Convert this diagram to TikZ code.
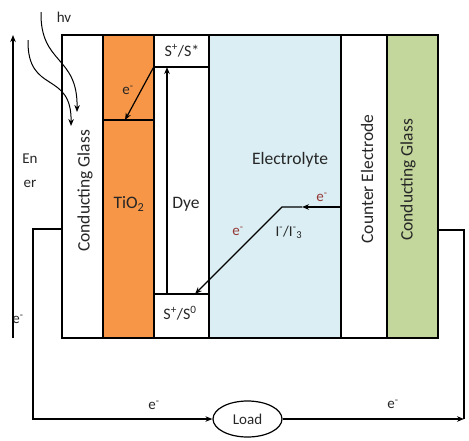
\documentclass[tikz,border=0pt]{standalone}
\usepackage{fontspec}
\setmainfont{Carlito}
\usetikzlibrary{arrows.meta,shapes.geometric}
\definecolor{tiox}{HTML}{F79646}
\definecolor{elyte}{HTML}{DAEEF3}
\definecolor{glassg}{HTML}{C3D69B}
\definecolor{ered}{HTML}{953735}
\definecolor{txt}{HTML}{262626}
\begin{document}
\begin{tikzpicture}[x=1pt,y=-1pt,line width=1.2pt,
  layer/.style={draw, minimum height=303pt, inner sep=0pt, anchor=center},
  big/.style={font=\fontsize{17.5}{20}\selectfont, text=txt, inner sep=0pt},
  mid/.style={font=\fontsize{16}{18}\selectfont, text=txt, inner sep=0pt},
  small/.style={font=\fontsize{15}{17}\selectfont, text=txt, inner sep=0pt},
  tip/.style={-{Stealth[length=7pt,width=5.5pt]}}]
\useasboundingbox (0,0) rectangle (469,440);
% layers
\node[layer, minimum width=41pt] (glassL) at (82.5,186.5) {};
\node[layer, minimum width=51pt, fill=tiox] (tio) at (128.5,186.5) {};
\node[layer, minimum width=55pt] (dye) at (181.5,186.5) {};
\node[layer, minimum width=132pt, fill=elyte] (ely) at (275,186.5) {};
\node[layer, minimum width=46pt] (cnt) at (364,186.5) {};
\node[layer, minimum width=51pt, fill=glassg] (glassR) at (412.5,186.5) {};
% dye sub-boxes
\node[draw, minimum width=55pt, minimum height=32pt, inner sep=0pt] (sstar) at (181.5,51) {};
\node[draw, minimum width=55pt, minimum height=44pt, inner sep=0pt] (szero) at (181.5,316) {};
% labels
\node[big, rotate=90] (lglassL) at (85,191) {Conducting Glass};
\node[big] (ltio) at (129,204) {TiO\textsubscript{2}};
\node[big] (ldye) at (186,204) {Dye};
\node[big] (lely) at (290,160) {Electrolyte};
\node[big, rotate=90] (lcnt) at (367,179) {Counter Electrode};
\node[big, rotate=90] (lglassR) at (408,180) {Conducting Glass};
\node[mid] (lsstar) at (182,51) {S\textsuperscript{+}/S*};
\node[mid] (lszero) at (180,313) {S\textsuperscript{+}/S\textsuperscript{0}};
\node[small] (liod) at (289,232) {I\textsuperscript{-}/I\textsuperscript{-}\textsubscript{3}};
\node[small, text=ered] (le1) at (322,197) {e\textsuperscript{-}};
\node[small, text=ered] (le2) at (238,231) {e\textsuperscript{-}};
\node[small] (le3) at (128,90) {e\textsuperscript{-}};
\node[small] (lhv) at (64,17) {hv};
\node[small] (len) at (30,159) {En};
\node[small] (ler) at (30,184) {er};
\node[small] (le4) at (18,319) {e\textsuperscript{-}};
\node[small] (le5) at (154,405) {e\textsuperscript{-}};
\node[small] (le6) at (393,404) {e\textsuperscript{-}};
% TiO2 level line and electron injection
\coordinate (tl) at (103,120);
\coordinate (tr) at (154,120);
\coordinate (tinj) at (125,120);
\draw (tl) -- (tr);
\draw[tip] (sstar.south west) -- (tinj);
% dye excitation
\coordinate (dyb) at (167,294);
\coordinate (dyt) at (167,67);
\draw[tip] (dyb) -- (dyt);
% electrolyte path
\coordinate (ea) at (341,207);
\coordinate (em) at (302,207);
\coordinate (ek) at (282,207);
\coordinate (eb) at (195,294);
\draw[tip] (ea) -- (em);
\draw[tip] (em) -- (ek) -- (eb);
% energy axis
\coordinate (en0) at (13,338);
\coordinate (en1) at (13,35);
\draw[tip] (en0) -- (en1);
% light
\coordinate (h1a) at (41,12);
\coordinate (h1b) at (77,112);
\coordinate (h2a) at (28,40);
\coordinate (h2b) at (71,126);
\draw[tip, line width=1pt] (h1a) .. controls (40,65) and (78,55) .. (h1b);
\draw[tip, line width=1pt] (h2a) .. controls (27,95) and (72,70) .. (h2b);
% circuit
\node[draw, ellipse, minimum width=69pt, minimum height=36pt, inner sep=0pt, small] (load) at (247.5,419) {Load};
\coordinate (wl1) at (62,229);
\coordinate (wl2) at (33,229);
\coordinate (wl3) at (33,419);
\coordinate (wr1) at (464,419);
\coordinate (wr2) at (464,230);
\coordinate (wr3) at (438,230);
\draw[tip] (wl1) -- (wl2) -- (wl3) -- (load.west);
\draw[tip] (load.east) -- (wr1);
\draw (wr1) -- (wr2) -- (wr3);
\end{tikzpicture}
\end{document}
